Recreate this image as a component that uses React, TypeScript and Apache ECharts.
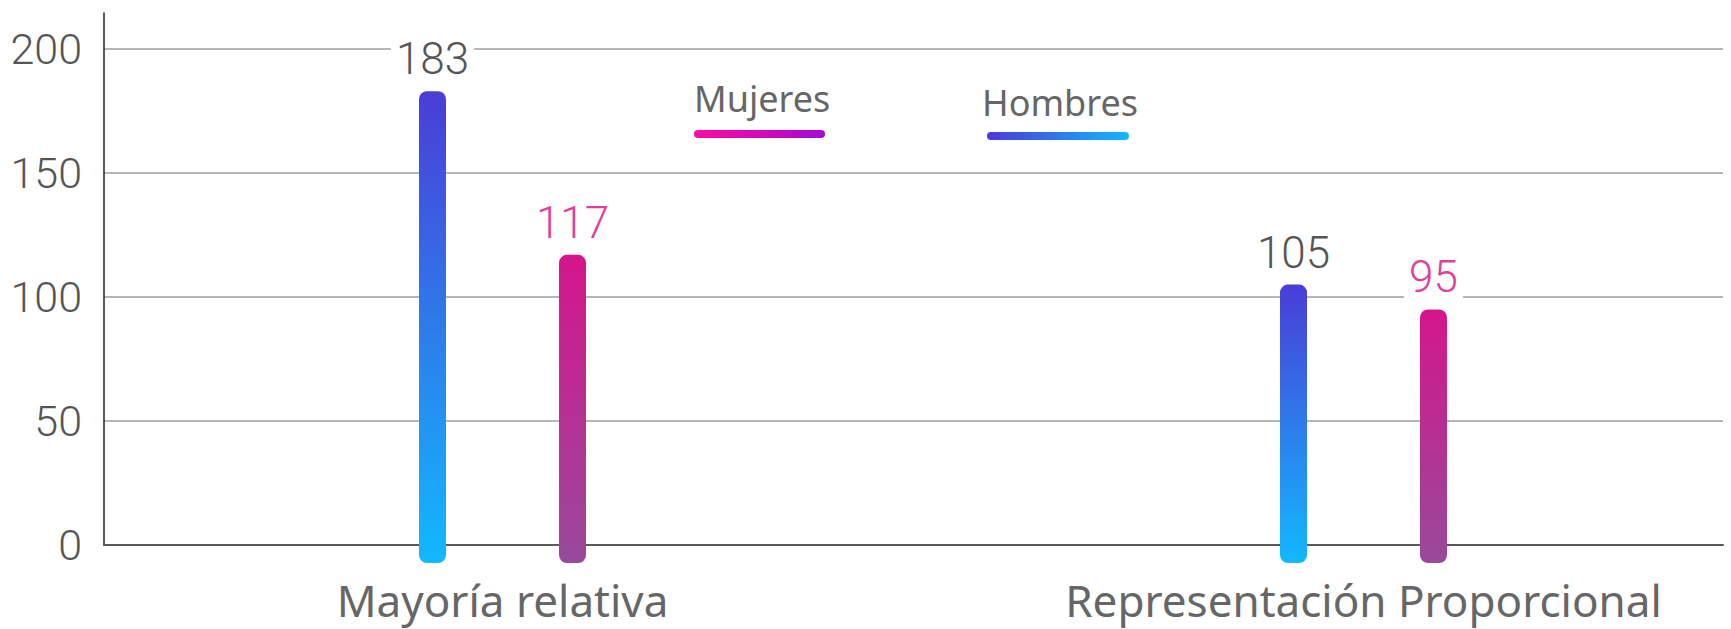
import React, { useEffect, useRef } from 'react';
import * as echarts from 'echarts';

const categories = ['Mayoría relativa', 'Representación Proporcional'];
const hombres = [183, 105];
const mujeres = [117, 95];
const yMin = 0;
const yTickInterval = 50;
const yAxisTop = 214.5;
const legendNames = ['Mujeres', 'Hombres'];

export default function App() {
  const ref = useRef<HTMLDivElement>(null);

  useEffect(() => {
    const chart = echarts.init(ref.current!, null, { renderer: 'svg' });
    const BAR_W = 27;

    const makeRender = (offset: number, top: string, bottom: string, labelColor: string) =>
      (params: any, api: any) => {
        const idx = api.value(0);
        const v = api.value(1);
        const pTop = api.coord([idx, v]);
        const pBase = api.coord([idx, 0]);
        const cx = pTop[0] + offset;
        return {
          type: 'group',
          children: [
            {
              type: 'rect',
              shape: {
                x: cx - BAR_W / 2,
                y: pTop[1],
                width: BAR_W,
                height: pBase[1] - pTop[1] + 18,
                r: 8,
              },
              style: {
                fill: new echarts.graphic.LinearGradient(0, 0, 0, 1, [
                  { offset: 0, color: top },
                  { offset: 1, color: bottom },
                ]),
              },
            },
            {
              type: 'text',
              x: cx,
              y: pTop[1] - 10,
              style: {
                text: String(v),
                align: 'center',
                verticalAlign: 'bottom',
                fill: labelColor,
                font: '300 44px Roboto',
                backgroundColor: '#ffffff',
                padding: [0, 5],
              },
            },
          ],
        };
      };

    chart.setOption({
      animation: false,
      backgroundColor: '#ffffff',
      grid: [
        { left: 104, right: 8, top: 13, bottom: 84 },
        { left: 72, width: 1722, top: 13, bottom: 84, outerBoundsMode: 'none' },
      ],
      xAxis: [
        {
          type: 'category',
          gridIndex: 0,
          data: categories,
          axisLine: { show: true, lineStyle: { color: '#5a5a5a', width: 2 } },
          axisTick: { show: false },
          splitLine: { show: false },
          axisLabel: { show: false },
        },
        {
          type: 'category',
          gridIndex: 1,
          data: categories,
          axisLine: { show: false },
          axisTick: { show: false },
          splitLine: { show: false },
          axisLabel: {
            color: '#666666',
            fontSize: 44,
            fontFamily: '"Noto Sans", sans-serif',
            margin: 33,
          },
        },
      ],
      yAxis: [
        {
          type: 'value',
          gridIndex: 0,
          min: yMin,
          max: yAxisTop,
          interval: yTickInterval,
          axisLine: { show: true, lineStyle: { color: '#222222', width: 1.5 } },
          axisTick: { show: false },
          axisLabel: {
            color: '#555555',
            fontSize: 43,
            fontFamily: 'Roboto',
            fontWeight: 300,
            margin: 22,
            showMaxLabel: false,
          },
          splitLine: {
            show: true,
            showMinLine: false,
            showMaxLine: false,
            lineStyle: { color: '#a19c9c', width: 1.5 },
          },
        },
        {
          type: 'value',
          gridIndex: 1,
          min: yMin,
          max: yAxisTop,
          interval: yTickInterval,
          show: false,
          splitLine: { show: false },
        },
      ],
      graphic: [
        {
          type: 'text',
          left: 694,
          top: 80,
          style: { text: legendNames[0], font: '36px "Noto Sans"', fill: '#666666' },
        },
        {
          type: 'rect',
          left: 694,
          top: 130,
          shape: { width: 131, height: 8, r: 4 },
          style: {
            fill: new echarts.graphic.LinearGradient(0, 0, 1, 0, [
              { offset: 0, color: '#ff0aa0' },
              { offset: 1, color: '#a40ad4' },
            ]),
          },
        },
        {
          type: 'text',
          left: 982,
          top: 84,
          style: { text: legendNames[1], font: '36px "Noto Sans"', fill: '#666666' },
        },
        {
          type: 'rect',
          left: 987,
          top: 132,
          shape: { width: 142, height: 8, r: 4 },
          style: {
            fill: new echarts.graphic.LinearGradient(0, 0, 1, 0, [
              { offset: 0, color: '#4b3bd6' },
              { offset: 1, color: '#12b8ff' },
            ]),
          },
        },
      ],
      series: [
        {
          name: 'Hombres',
          type: 'custom',
          xAxisIndex: 1,
          yAxisIndex: 1,
          clip: false,
          z: 3,
          encode: { x: 0, y: 1 },
          data: hombres.map((v, i) => [i, v]),
          renderItem: makeRender(-70, '#4a3dd6', '#12b9ff', '#555555'),
        },
        {
          name: 'Mujeres',
          type: 'custom',
          xAxisIndex: 1,
          yAxisIndex: 1,
          clip: false,
          z: 3,
          encode: { x: 0, y: 1 },
          data: mujeres.map((v, i) => [i, v]),
          renderItem: makeRender(70, '#d4168b', '#984a9a', '#e0409a'),
        },
      ],
    });

    return () => chart.dispose();
  }, []);

  return (
    <div
      ref={ref}
      style={{ position: 'absolute', left: 0, top: 0, width: 1731, height: 629 }}
    />
  );
}
